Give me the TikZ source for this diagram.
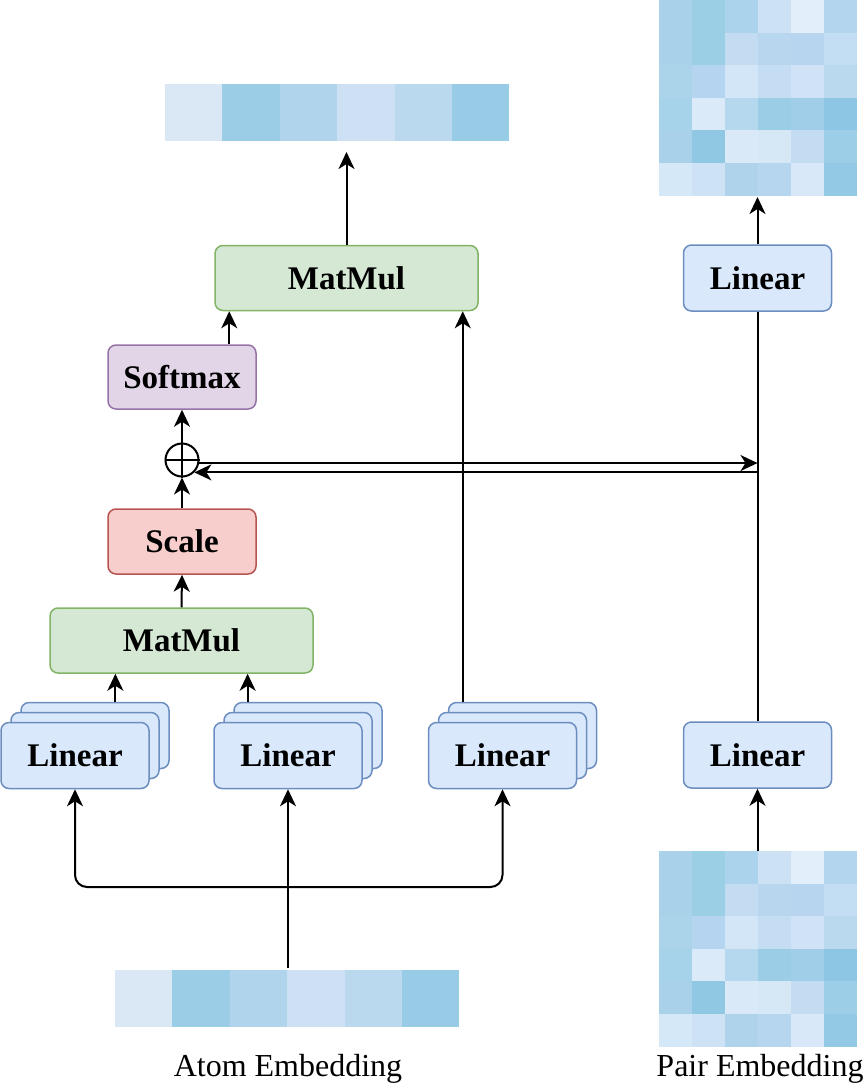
\documentclass[tikz,border=0pt]{standalone}
\usepackage{fontspec}
\setmainfont{Liberation Serif}
\usetikzlibrary{arrows.meta}
\usetikzlibrary{calc,positioning}

\definecolor{linfill}{HTML}{DAE8FC}
\definecolor{linline}{HTML}{6C8EBF}
\definecolor{mmfill}{HTML}{D5E8D4}
\definecolor{mmline}{HTML}{82B366}
\definecolor{smfill}{HTML}{E1D5E7}
\definecolor{smline}{HTML}{9673A6}
\definecolor{scfill}{HTML}{F8CECC}
\definecolor{scline}{HTML}{B85450}

\tikzset{
    block/.style={draw, rounded corners=8pt, line width=1.5pt, inner sep=0pt,
        font=\fontsize{33}{39}\selectfont\bfseries},
    linbox/.style={block, fill=linfill, draw=linline, minimum width=148pt, minimum height=66pt},
    mmbox/.style={block, fill=mmfill, draw=mmline, minimum width=263pt, minimum height=65pt},
    smbox/.style={block, fill=smfill, draw=smline, minimum width=148pt, minimum height=64pt},
    scbox/.style={block, fill=scfill, draw=scline, minimum width=148pt, minimum height=65pt},
    lbl/.style={font=\fontsize{32}{38}\selectfont, inner sep=0pt},
}

\begin{document}
\begin{tikzpicture}[>={Stealth[length=17pt,width=16pt,inset=5pt]}, x=1pt, y=-1pt, line width=2pt]

    \useasboundingbox (0,0) rectangle (867,1088);

    % embedding bars
    \foreach \ytop/\xl in {84/165, 970/115} {
        \foreach \hex [count=\c from 0] in {DAE8F6,9CCDE6,B0D4EC,CDE0F4,BAD9EE,98CBE6} {
            \definecolor{cellc}{HTML}{\hex}
            \fill[cellc] (\xl+57.4*\c,\ytop) rectangle ++(57.4,57);
        }
    }

    % pair matrices
    \foreach \ytop in {0,851} {
        \foreach \rowcols [count=\r from 0] in {
            {A9D2EA,9BCFE6,ACD3EC,CDE1F5,E2EEFA,B3D6EE},
            {A9D2EA,9BCFE6,C3DCF2,B8D7EF,B8D5EF,C3DEF2},
            {ABD3EA,B4D4F0,D3E6F7,C4DDF2,D0E3F6,BAD9EF},
            {A6D2EA,DBEAF9,B6D8EE,9CCDE6,A0CDE7,8DC6E4},
            {A9D1EA,90C8E4,DAE9F8,D6E7F6,C4DCF1,9CCEE7},
            {D5E8F7,CDE2F5,AED3EB,B6D6EF,D8E8F8,93C9E5}} {
            \foreach \hex [count=\c from 0] in \rowcols {
                \definecolor{cellc}{HTML}{\hex}
                \fill[cellc] (659+33*\c,\ytop+32.6*\r) rectangle ++(33,32.6);
            }
        }
    }

    \coordinate (outtop) at (346.5,152);
    \coordinate (pairtop) at (757.5,197);
    \coordinate (pairbot) at (757.5,851);
    \coordinate (atomtop) at (288,968);
    \coordinate (route) at (288,887);

    % blocks
    \node[mmbox] (mmTop) at (346.5,278) {MatMul};
    \node[smbox] (softmax) at (182,377) {Softmax};
    \node[draw, circle, minimum size=33pt, inner sep=0pt] (oplus) at (182,460) {};
    \node[scbox] (scale) at (182,541.5) {Scale};
    \node[mmbox] (mmLow) at (181.5,640.5) {MatMul};

    \foreach \nm/\px in {lin1/75, lin2/288, lin3/502.5} {
        \node[linbox] (\nm-c) at (\px+20,735.5) {};
        \node[linbox] (\nm-b) at (\px+10,745.5) {};
        \node[linbox] (\nm) at (\px,755.5) {Linear};
    }

    \node[linbox] (linR1) at (757.5,278) {Linear};
    \node[linbox] (linR2) at (757.5,755) {Linear};

    \node[lbl] (atomlbl) at (288,1069) {Atom Embedding};
    \node[lbl] (pairlbl) at (760,1069) {Pair Embedding};

    % oplus cross
    \draw (oplus.north) -- (oplus.south);
    \draw (oplus.west) -- (oplus.east);

    % connectors
    \coordinate (qa) at ($(mmLow.south west)!0.25!(mmLow.south east)$);
    \coordinate (qb) at ($(mmLow.south west)!0.75!(mmLow.south east)$);
    \coordinate (qv) at ([xshift=-16pt]mmTop.south east);
    \coordinate (qs) at ([xshift=15pt]mmTop.south west);

    \draw[->] (mmTop.north) -- (outtop);
    \draw[->] (softmax.north -| qs) -- (qs);
    \draw[->] (oplus.north) -- (softmax.south);
    \draw[->] (scale.north) -- (oplus.south);
    \draw[->] (mmLow.north) -- (scale.south);
    \draw[->] (lin1-c.north -| qa) -- (qa);
    \draw[->] (lin2-c.north -| qb) -- (qb);
    \draw[->] (lin3-c.north -| qv) -- (qv);

    \draw[->] (atomtop) -- (lin2.south |- atomtop) -- (lin2.south);
    \draw[<->, rounded corners=12pt] (lin1.south) |- (route) -| (lin3.south);

    \draw[->] (linR1.north) -- (pairtop);
    \draw[->] (pairbot) -- (linR2.south);
    \draw (linR2.north) -- (linR1.south);

    \coordinate (tapout) at (oplus.-10);
    \coordinate (tapin) at (oplus.-45);
    \draw[->] (tapout) -- (tapout -| linR1.south);
    \draw[<-] (tapin) -- (tapin -| linR1.south);

\end{tikzpicture}
\end{document}
